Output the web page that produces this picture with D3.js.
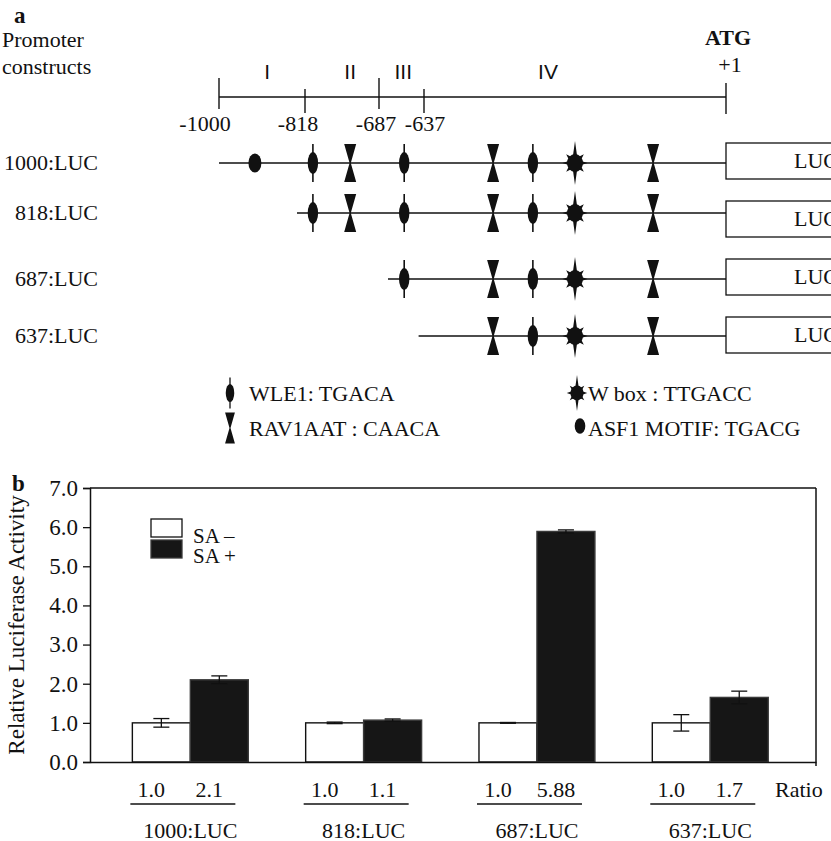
<!DOCTYPE html>
<html>
<head>
<meta charset="utf-8">
<script src="https://cdn.jsdelivr.net/npm/d3@7"></script>
<style>
body { margin: 0; background: #fff; }
text { font-family: "Liberation Serif", "Times New Roman", serif; fill: #111; }
</style>
</head>
<body>
<svg id="fig" width="831" height="841"></svg>
<script>
// ---- data ----
const scalePos = [-1000, -818, -687, -637, 1];
const scaleLabels = ["-1000", "-818", "-687", "-637"];
const segments = ["I", "II", "III", "IV"];
const segmentMid = [-898, -738, -660, -375];

const constructs = ["1000:LUC", "818:LUC", "687:LUC", "637:LUC"];
const lineStart = [-1000, -835, -677, -643];

const motifType = ["ASF1", "WLE1", "RAV1AAT", "WLE1", "RAV1AAT", "WLE1", "Wbox", "RAV1AAT"];
const motifPos = [-924, -804, -738, -659, -491, -407, -318, -153];

const legendTypes = ["WLE1", "RAV1AAT", "Wbox", "ASF1"];
const legendLabels = ["WLE1: TGACA", "RAV1AAT : CAACA", "W box : TTGACC", "ASF1 MOTIF: TGACG"];

const series = ["SA –", "SA +"];
const saMinus = [1.0, 1.0, 1.0, 1.0];
const saPlus = [2.1, 1.07, 5.89, 1.65];
const errMinus = [0.11, 0.02, 0.01, 0.21];
const errPlus = [0.1, 0.03, 0.04, 0.16];
const ratioMinus = ["1.0", "1.0", "1.0", "1.0"];
const ratioPlus = ["2.1", "1.1", "5.88", "1.7"];
const yTicks = [0, 1, 2, 3, 4, 5, 6, 7];

const svg = d3.select("#fig");
const ink = "#111";

// ---- motif symbols ----
function drawMotif(g, type, x, y, s) {
  const m = g.append("g").attr("transform", `translate(${x},${y}) scale(${s})`);
  if (type === "WLE1") {
    m.append("line").attr("y1", -19).attr("y2", 19).attr("stroke", ink).attr("stroke-width", 1.6);
    m.append("ellipse").attr("rx", 5.2).attr("ry", 11).attr("fill", ink);
  } else if (type === "ASF1") {
    m.append("ellipse").attr("rx", 6.5).attr("ry", 9.5).attr("fill", ink);
  } else if (type === "RAV1AAT") {
    m.append("path").attr("d", "M-6,-19L6,-19L0.6,0L6,19L-6,19L-0.6,0Z").attr("fill", ink);
  } else if (type === "Wbox") {
    const pts = [];
    for (let k = 0; k < 16; k++) {
      const a = k * Math.PI / 8 - Math.PI / 2;
      let r = 6;
      if (k % 2 === 0) r = (k / 2) % 4 === 0 ? 22 : 12.5;
      pts.push([r * Math.cos(a), r * Math.sin(a)]);
    }
    m.append("path").attr("d", d3.line()(pts) + "Z").attr("fill", ink);
    m.append("ellipse").attr("rx", 8).attr("ry", 9).attr("fill", ink);
  }
}

// ---- panel a ----
const a = svg.append("g");
a.append("text").attr("x", 14).attr("y", 23).style("font-weight", "bold").style("font-size", "23px").text("a");
a.append("text").attr("x", 2).attr("y", 47).style("font-size", "22px").text("Promoter");
a.append("text").attr("x", 2).attr("y", 74).style("font-size", "22px").text("constructs");

const pos = d3.scaleLinear().domain(scalePos).range([219, 305, 379, 424, 726]);

a.append("line").attr("x1", pos(-1000)).attr("x2", pos(1)).attr("y1", 97).attr("y2", 97)
  .attr("stroke", ink).attr("stroke-width", 1.5);
a.selectAll(".stick").data(scalePos).join("line")
  .attr("x1", d => pos(d)).attr("x2", d => pos(d))
  .attr("y1", (d, i) => i === 4 ? 83 : (i % 2 ? 89 : 78))
  .attr("y2", (d, i) => i === 4 ? 114 : (i % 2 ? 113 : 109))
  .attr("stroke", ink).attr("stroke-width", 1.4);
const labelNudge = [-14, -7, -3, 1];
a.selectAll(".slab").data(scaleLabels).join("text")
  .attr("x", (d, i) => pos(scalePos[i]) + labelNudge[i]).attr("y", 131)
  .attr("text-anchor", "middle").style("font-size", "22px").text(d => d);
a.selectAll(".seg").data(segments).join("text")
  .attr("x", (d, i) => pos(segmentMid[i])).attr("y", 79)
  .attr("text-anchor", "middle")
  .style("font-family", "'Liberation Sans', Arial, sans-serif").style("font-size", "21px")
  .text(d => d);
a.append("text").attr("x", pos(1) + 2).attr("y", 45).attr("text-anchor", "middle")
  .style("font-weight", "bold").style("font-size", "22px").text("ATG");
a.append("text").attr("x", pos(1) + 4).attr("y", 72).attr("text-anchor", "middle")
  .style("font-size", "22px").text("+1");

const rowY = d3.scaleOrdinal().domain(constructs).range([163, 213, 279, 336]);
const boxY = d3.scaleOrdinal().domain(constructs).range([143, 201, 259, 317]);

constructs.forEach((c, i) => {
  const y = rowY(c);
  a.append("text").attr("x", 98).attr("y", y + 7).attr("text-anchor", "end")
    .style("font-size", "22px").text(c);
  a.append("line").attr("x1", pos(lineStart[i])).attr("x2", pos(1)).attr("y1", y).attr("y2", y)
    .attr("stroke", ink).attr("stroke-width", 1.5);
  a.append("rect").attr("x", pos(1)).attr("y", boxY(c)).attr("width", 200).attr("height", 36)
    .attr("fill", "#fff").attr("stroke", ink).attr("stroke-width", 1.3);
  a.append("text").attr("x", 794).attr("y", boxY(c) + 25).style("font-size", "22px").text("LUC");
  motifType.forEach((t, k) => {
    if (motifPos[k] >= lineStart[i]) drawMotif(a, t, pos(motifPos[k]), y, 1);
  });
});

const legX = [230, 577], legY = [393, 428];
legendTypes.forEach((t, i) => {
  const col = Math.floor(i / 2), row = i % 2;
  drawMotif(a, t, legX[col] + (t === "ASF1" ? 3 : 0), legY[row] - (t === "ASF1" ? 2 : 0), 0.82);
  a.append("text").attr("x", legX[col] + (col ? 11 : 19)).attr("y", legY[row] + 8)
    .style("font-size", "22px").text(legendLabels[i]);
});

// ---- panel b ----
const b = svg.append("g");
b.append("text").attr("x", 12).attr("y", 491).style("font-weight", "bold").style("font-size", "23px").text("b");

const x = d3.scaleBand().domain(constructs).range([90, 816]).paddingInner(0.331).paddingOuter(0.26).align(0.47);
const xSub = d3.scaleBand().domain(series).range([0, x.bandwidth()]);
const y = d3.scaleLinear().domain([0, 7]).range([762, 488]);

// frame
b.append("line").attr("x1", 90).attr("x2", 816).attr("y1", y(7)).attr("y2", y(7)).attr("stroke", ink).attr("stroke-width", 1.5);
b.append("line").attr("x1", 816).attr("x2", 816).attr("y1", y(7)).attr("y2", y(0) + 4).attr("stroke", ink).attr("stroke-width", 1.5);

const yAxis = b.append("g").attr("transform", "translate(90,0)")
  .call(d3.axisLeft(y).tickValues(yTicks).tickFormat(d3.format(".1f")).tickSize(7).tickPadding(5));
yAxis.select(".domain").attr("stroke", ink).attr("stroke-width", 1.5);
yAxis.selectAll(".tick line").attr("stroke", ink).attr("stroke-width", 1.3);
yAxis.selectAll(".tick text").style("font-family", "'Liberation Serif', 'Times New Roman', serif")
  .style("font-size", "23px").attr("fill", ink);

b.append("text").attr("transform", `translate(24,${(y(0) + y(7)) / 2}) rotate(-90)`)
  .attr("text-anchor", "middle").style("font-size", "23px").text("Relative Luciferase Activity");

const groups = b.selectAll(".grp").data(constructs).join("g")
  .attr("transform", d => `translate(${x(d)},0)`);

const vals = [saMinus, saPlus], errs = [errMinus, errPlus];
groups.each(function (c, i) {
  const g = d3.select(this);
  series.forEach((s, j) => {
    const v = vals[j][i], e = errs[j][i];
    const cx = xSub(s) + xSub.bandwidth() / 2;
    g.append("rect").attr("x", xSub(s)).attr("y", y(v)).attr("width", xSub.bandwidth())
      .attr("height", y(0) - y(v))
      .attr("fill", j ? "#161616" : "#fff").attr("stroke", j ? "#3a3a3a" : ink).attr("stroke-width", 1.4);
    g.append("line").attr("x1", cx).attr("x2", cx).attr("y1", y(v + e)).attr("y2", y(v - e))
      .attr("stroke", ink).attr("stroke-width", 1.3);
    [v + e, v - e].forEach(t => {
      g.append("line").attr("x1", cx - 8).attr("x2", cx + 8).attr("y1", y(t)).attr("y2", y(t))
        .attr("stroke", ink).attr("stroke-width", 1.3);
    });
  });
});

// baseline drawn on top of bars
b.append("g").attr("transform", `translate(0,${y(0)})`)
  .call(d3.axisBottom(x).tickSize(0).tickFormat(""))
  .select(".domain").attr("stroke", ink).attr("stroke-width", 1.5);

// ratio row and construct names
const ratios = [ratioMinus, ratioPlus];
groups.each(function (c, i) {
  const g = d3.select(this);
  series.forEach((s, j) => {
    g.append("text").attr("x", xSub(s) + xSub.bandwidth() / 2 - 10).attr("y", 797)
      .attr("text-anchor", "middle").style("font-size", "22px").text(ratios[j][i]);
  });
  g.append("line").attr("x1", -2).attr("x2", 103).attr("y1", 804).attr("y2", 804)
    .attr("stroke", ink).attr("stroke-width", 1.4);
  g.append("text").attr("x", x.bandwidth() / 2).attr("y", 838).attr("text-anchor", "middle")
    .style("font-size", "22px").text(c);
});
b.append("text").attr("x", 775).attr("y", 797).style("font-size", "22px").text("Ratio");

// legend
const leg = b.append("g").attr("transform", "translate(151,519)");
series.forEach((s, j) => {
  leg.append("rect").attr("x", 0).attr("y", j * 21).attr("width", 31).attr("height", 18)
    .attr("fill", j ? "#161616" : "#fff").attr("stroke", j ? "#3a3a3a" : ink).attr("stroke-width", 1.3);
  leg.append("text").attr("x", 42).attr("y", 24 + j * 20).style("font-size", "21px").text(s);
});
</script>
</body>
</html>
